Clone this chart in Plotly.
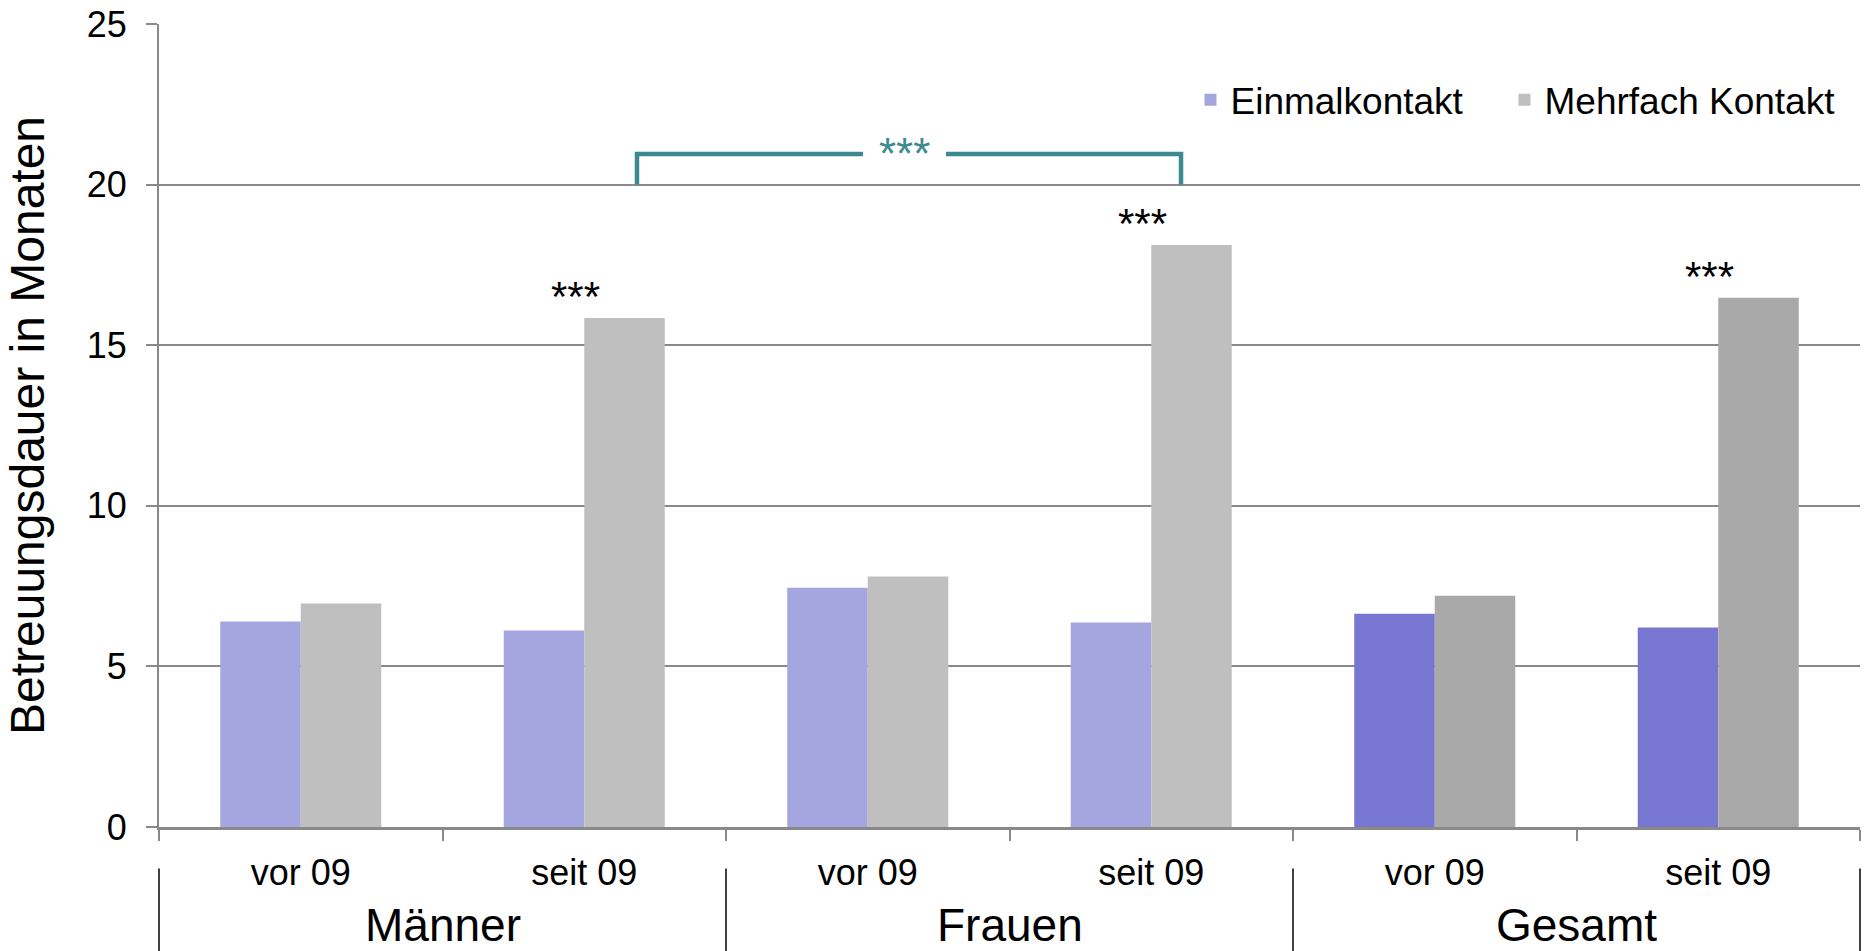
import plotly.graph_objects as go

# ---- data ----
groups = ["Männer", "Frauen", "Gesamt"]
periods = ["vor 09", "seit 09", "vor 09", "seit 09", "vor 09", "seit 09"]
einmal = [6.40, 6.12, 7.45, 6.37, 6.64, 6.21]
mehrfach = [6.96, 15.85, 7.80, 18.12, 7.20, 16.48]
sig_mehrfach = ["", "***", "", "***", "", "***"]
y_ticks = [0, 5, 10, 15, 20, 25]

# colours (light for subgroups, dark for Gesamt)
einmal_colors = ["#A5A5DF"] * 4 + ["#7777D1"] * 2
mehrfach_colors = ["#BFBFBF"] * 4 + ["#A9A9A9"] * 2

FONT = "Liberation Sans, Arial, sans-serif"
GRID = "#898989"
TEAL = "#3C8A90"

n = len(periods)
xs = list(range(n))

fig = go.Figure()
fig.add_trace(go.Bar(x=xs, y=einmal, name="Einmalkontakt", legend="legend",
                     marker=dict(color=einmal_colors, line=dict(width=0))))
fig.add_trace(go.Bar(x=xs, y=mehrfach, name="Mehrfach Kontakt", legend="legend2",
                     marker=dict(color=mehrfach_colors, line=dict(width=0))))

annotations = []
# significance stars above bars
for i, s in enumerate(sig_mehrfach):
    if s:
        annotations.append(dict(x=i - 0.03, y=mehrfach[i], xref="x", yref="y",
                                text=s, showarrow=False, yanchor="bottom",
                                yshift=-4, font=dict(family=FONT, size=42, color="black")))

# group labels
for g, name in enumerate(groups):
    annotations.append(dict(x=2 * g + 0.5, y=-0.1215, xref="x", yref="paper",
                            text=name, showarrow=False, yanchor="middle",
                            font=dict(family=FONT, size=46, color="black")))

# bracket between Männer seit 09 and Frauen seit 09
br_left = 1 + 0.186
br_right = 3 + 0.105
br_top = 20.95
br_bottom = 20.0
gap_l, gap_r = 1.983, 2.276
annotations.append(dict(x=(gap_l + gap_r) / 2, y=br_top, xref="x", yref="y",
                        text="***", showarrow=False, yanchor="middle", yshift=1,
                        font=dict(family=FONT, size=44, color=TEAL)))

shapes = [dict(type="path", xref="x", yref="y",
               path=(f"M {br_left},{br_bottom} L {br_left},{br_top} L {gap_l},{br_top} "
                     f"M {gap_r},{br_top} L {br_right},{br_top} L {br_right},{br_bottom}"),
               line=dict(color=TEAL, width=4.5))]

# group dividers below the axis
for b in range(0, n + 1, 2):
    xp = b / n
    shapes.append(dict(type="line", xref="paper", yref="paper",
                       x0=xp, x1=xp, y0=-0.0516, y1=-0.16,
                       line=dict(color="black", width=1.5)))

legend_style = dict(orientation="h", yanchor="middle", xanchor="left",
                    font=dict(family=FONT, size=37, color="black"),
                    bgcolor="rgba(0,0,0,0)")

fig.update_layout(
    width=1866, height=951,
    margin=dict(l=159, r=6, t=24, b=124),
    paper_bgcolor="white", plot_bgcolor="white",
    barmode="group", bargap=0.432, bargroupgap=0,
    font=dict(family=FONT, size=36, color="black"),
    showlegend=True,
    legend=dict(x=0.6064, y=0.905, **legend_style),
    legend2=dict(x=0.791, y=0.905, **legend_style),
    annotations=annotations,
    shapes=shapes,
)

fig.update_xaxes(
    range=[-0.5, n - 0.5], automargin=False,
    tickmode="array", tickvals=xs, ticktext=periods,
    ticks="", ticklen=0, ticklabelstandoff=12,
    tickfont=dict(family=FONT, size=36, color="black"),
    showgrid=False, zeroline=False,
    showline=True, linecolor=GRID, linewidth=2.5,
    minor=dict(tickmode="array", tickvals=[i - 0.5 for i in range(n + 1)],
               ticks="outside", ticklen=11, tickwidth=1.5, tickcolor=GRID, showgrid=False),
    fixedrange=True,
)

fig.update_yaxes(
    range=[0, 25], automargin=False, tickmode="array", tickvals=y_ticks,
    ticks="outside", ticklen=11, tickwidth=1.5, tickcolor=GRID,
    ticklabelstandoff=12,
    tickfont=dict(family=FONT, size=36, color="black"),
    showgrid=True, gridcolor=GRID, gridwidth=1.5,
    zeroline=False,
    showline=True, linecolor=GRID, linewidth=2,
    title=dict(text="Betreuungsdauer in Monaten", standoff=27,
               font=dict(family=FONT, size=48, color="black")),
    fixedrange=True,
)

fig.write_html("out.html",
               config={"displayModeBar": False},
               post_script="document.body.style.margin='0';document.body.style.overflow='hidden';")
